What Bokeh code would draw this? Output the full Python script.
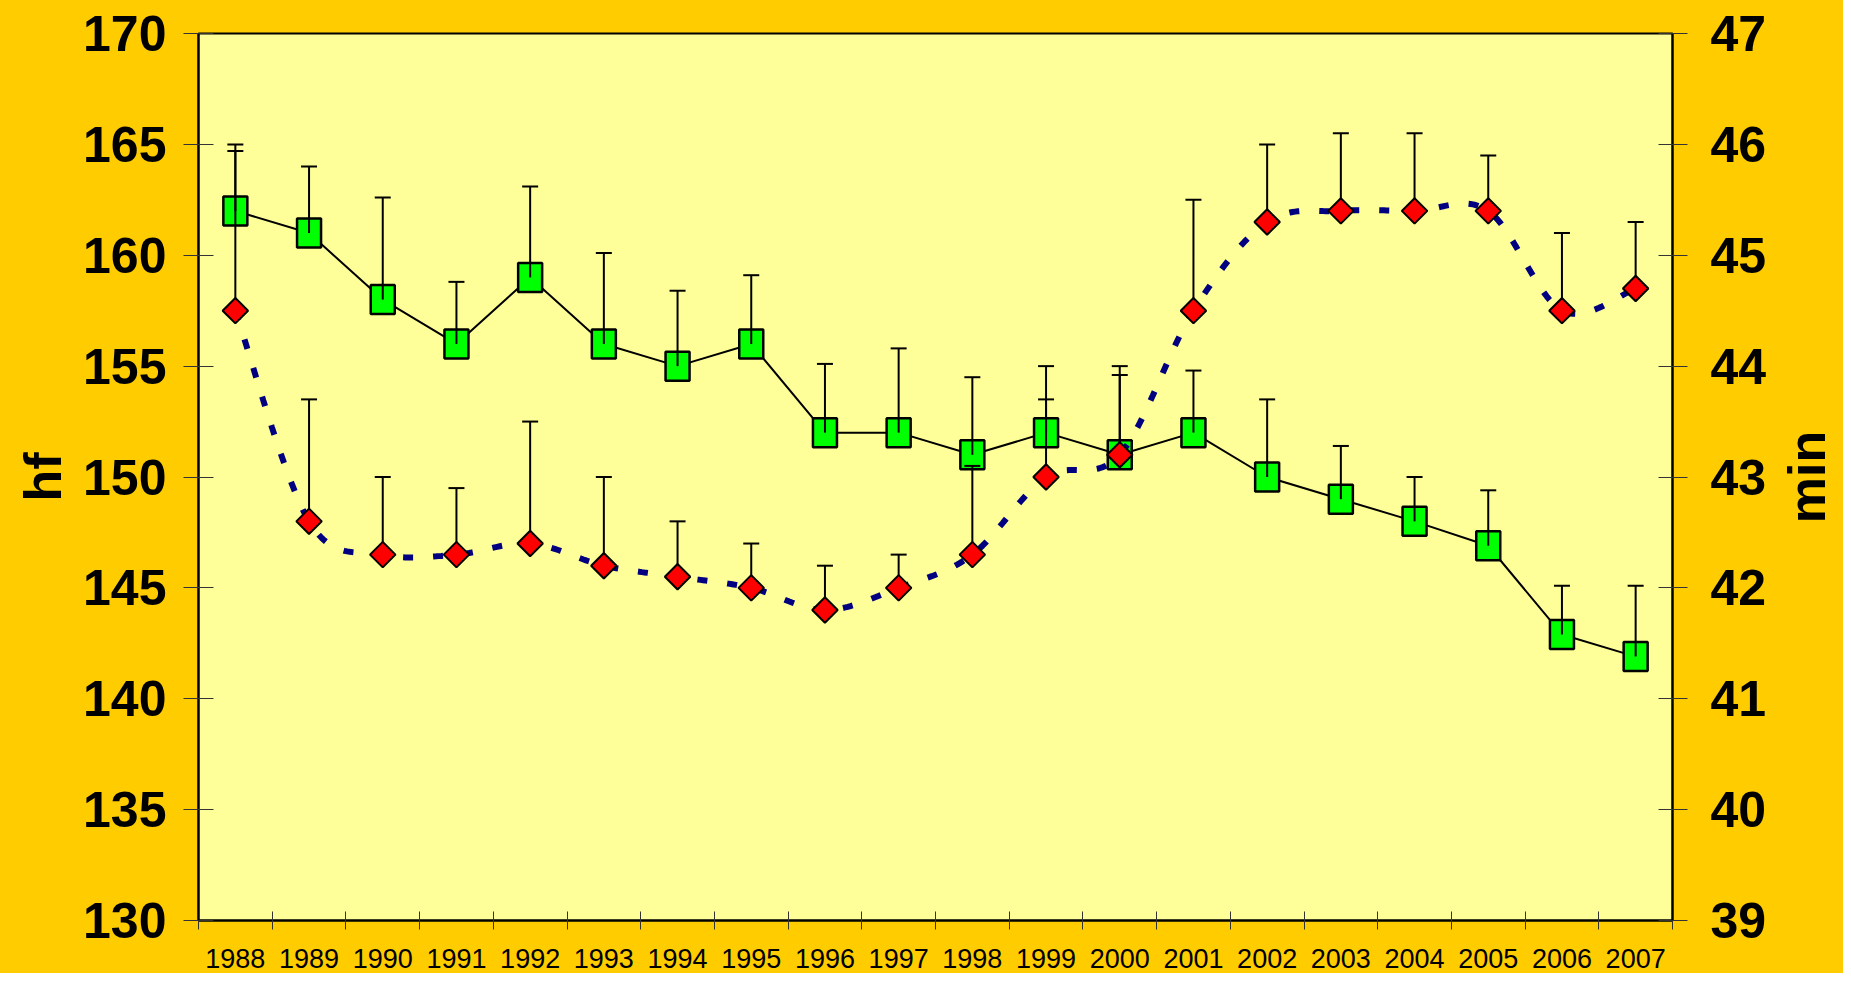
import numpy as np
from bokeh.plotting import figure
from bokeh.layouts import row
from bokeh.models import Range1d, LinearAxis, FixedTicker, ColumnDataSource, Label
from bokeh.embed import file_html
from bokeh.resources import INLINE

# ---- data ----
years = [1988, 1989, 1990, 1991, 1992, 1993, 1994, 1995, 1996, 1997,
         1998, 1999, 2000, 2001, 2002, 2003, 2004, 2005, 2006, 2007]
hf = [162, 161, 158, 156, 159, 156, 155, 156, 152, 152,
      151, 152, 151, 152, 150, 149, 148, 146.9, 142.9, 141.9]
hf_err = [2.7, 3.0, 4.6, 2.8, 4.1, 4.1, 3.4, 3.1, 3.1, 3.8,
          3.5, 3.0, 3.6, 2.8, 3.5, 2.4, 2.0, 2.5, 2.2, 3.2]
mins = [44.5, 42.6, 42.3, 42.3, 42.4, 42.2, 42.1, 42.0, 41.8, 42.0,
        42.3, 43.0, 43.2, 44.5, 45.3, 45.4, 45.4, 45.4, 44.5, 44.7]
min_err = [1.5, 1.1, 0.7, 0.6, 1.1, 0.8, 0.5, 0.4, 0.4, 0.3,
           0.8, 0.7, 0.8, 1.0, 0.7, 0.7, 0.7, 0.5, 0.7, 0.6]
hf_ticks = [130, 135, 140, 145, 150, 155, 160, 165, 170]
min_ticks = [39, 40, 41, 42, 43, 44, 45, 46, 47]

# ---- smoothed curve (Catmull-Rom through the data points) ----
def smooth(xs, ys, n=30):
    xs = np.asarray(xs, float)
    ys = np.asarray(ys, float)
    px = np.concatenate([[xs[0]], xs, [xs[-1]]])
    py = np.concatenate([[ys[0]], ys, [ys[-1]]])
    ox, oy = [], []
    t = np.linspace(0, 1, n)
    for i in range(1, len(px) - 2):
        p0x, p1x, p2x, p3x = px[i - 1], px[i], px[i + 1], px[i + 2]
        p0y, p1y, p2y, p3y = py[i - 1], py[i], py[i + 1], py[i + 2]
        c1x = p1x + (p2x - p0x) / 6.0
        c1y = p1y + (p2y - p0y) / 6.0
        c2x = p2x - (p3x - p1x) / 6.0
        c2y = p2y - (p3y - p1y) / 6.0
        bx = (1 - t) ** 3 * p1x + 3 * (1 - t) ** 2 * t * c1x + 3 * (1 - t) * t ** 2 * c2x + t ** 3 * p2x
        by = (1 - t) ** 3 * p1y + 3 * (1 - t) ** 2 * t * c1y + 3 * (1 - t) * t ** 2 * c2y + t ** 3 * p2y
        if i > 1:
            bx, by = bx[1:], by[1:]
        ox.extend(bx)
        oy.extend(by)
    return ox, oy

sx, sy = smooth(years, mins)

hf_top = [a + b for a, b in zip(hf, hf_err)]
min_top = [a + b for a, b in zip(mins, min_err)]

src = ColumnDataSource(dict(x=years, hf=hf, hf_top=hf_top, mins=mins, min_top=min_top))

BG = "#FFCC00"
FONT = "Liberation Sans"

p = figure(width=1769, height=973, output_backend="svg", toolbar_location=None,
           x_range=Range1d(years[0] - 0.5, years[-1] + 0.5),
           y_range=Range1d(130, 170),
           min_border_left=198, min_border_right=95,
           min_border_top=33, min_border_bottom=53)
p.extra_y_ranges = {"min": Range1d(39, 47)}

p.background_fill_color = "#FFFF99"
p.border_fill_color = BG
p.outline_line_color = "black"
p.outline_line_width = 2
p.xgrid.visible = False
p.ygrid.visible = False

# left axis
ya = p.yaxis[0]
ya.ticker = FixedTicker(ticks=hf_ticks)
ya.axis_label = "hf"
ya.axis_label_text_font = FONT
ya.axis_label_text_font_style = "bold"
ya.axis_label_text_font_size = "52px"
ya.axis_label_text_color = "black"
ya.axis_label_standoff = 8
ya.major_label_text_font = FONT
ya.major_label_text_font_style = "bold"
ya.major_label_text_font_size = "50px"
ya.major_label_text_color = "black"
ya.major_label_standoff = 17
ya.major_tick_in = 15
ya.major_tick_out = 15
ya.major_tick_line_color = "#333333"
ya.major_tick_line_width = 1
ya.minor_tick_line_color = None
ya.axis_line_color = "black"
ya.axis_line_width = 2

# right axis
ra = LinearAxis(y_range_name="min", ticker=FixedTicker(ticks=min_ticks))
ra.major_label_text_font = FONT
ra.major_label_text_font_style = "bold"
ra.major_label_text_font_size = "50px"
ra.major_label_text_color = "black"
ra.major_label_standoff = 23
ra.major_tick_in = 14
ra.major_tick_out = 15
ra.major_tick_line_color = "#333333"
ra.major_tick_line_width = 1
ra.minor_tick_line_color = None
ra.axis_line_color = "black"
ra.axis_line_width = 2
p.add_layout(ra, "right")

# bottom axis
xa = p.xaxis[0]
xa.ticker = FixedTicker(ticks=years, minor_ticks=[y - 0.5 for y in years] + [years[-1] + 0.5])
xa.major_tick_in = 0
xa.major_tick_out = 0
xa.minor_tick_in = 9
xa.minor_tick_out = 9
xa.minor_tick_line_color = "#333333"
xa.minor_tick_line_width = 1
xa.major_label_text_font = FONT
xa.major_label_text_font_size = "27px"
xa.major_label_text_color = "black"
xa.major_label_standoff = 19
xa.axis_line_color = "black"
xa.axis_line_width = 2

# hf series
p.line("x", "hf", source=src, line_color="black", line_width=2)
p.rect("x", "hf", source=src, width=24, height=29, width_units="screen", height_units="screen",
       fill_color="#00FF00", line_color="black", line_width=2.5)

# min smoothed dotted line
p.line(sx, sy, y_range_name="min", line_color="#000080", line_width=6, line_dash="10 20")

# error bars
p.segment("x", "hf", "x", "hf_top", source=src, line_color="black", line_width=2)
p.scatter("x", "hf_top", source=src, marker="dash", size=16, line_color="black", line_width=2)
p.segment("x", "mins", "x", "min_top", source=src, y_range_name="min", line_color="black", line_width=2)
p.scatter("x", "min_top", source=src, y_range_name="min", marker="dash", size=16,
          line_color="black", line_width=2)

# min markers
p.scatter("x", "mins", source=src, y_range_name="min", marker="square", angle=np.pi / 4,
          size=18, fill_color="#FF0000", line_color="black", line_width=2)

# narrow strip on the right carrying the secondary axis title (reads bottom-to-top)
p2 = figure(width=74, height=973, output_backend="svg", toolbar_location=None,
            x_range=Range1d(0, 1), y_range=Range1d(39, 47),
            min_border_left=0, min_border_right=0, min_border_top=33, min_border_bottom=53)
p2.axis.visible = False
p2.grid.visible = False
p2.outline_line_color = None
p2.background_fill_color = BG
p2.border_fill_color = BG
p2.add_layout(Label(x=0.5, y=(min_ticks[0] + min_ticks[-1]) / 2, text="min",
                    angle=np.pi / 2, text_align="center", text_baseline="middle",
                    text_font=FONT, text_font_style="bold", text_font_size="52px",
                    text_color="black"))

layout = row(p, p2, spacing=0)
layout.styles = {"background-color": BG}

open("out.html", "w").write(file_html(layout, INLINE))
